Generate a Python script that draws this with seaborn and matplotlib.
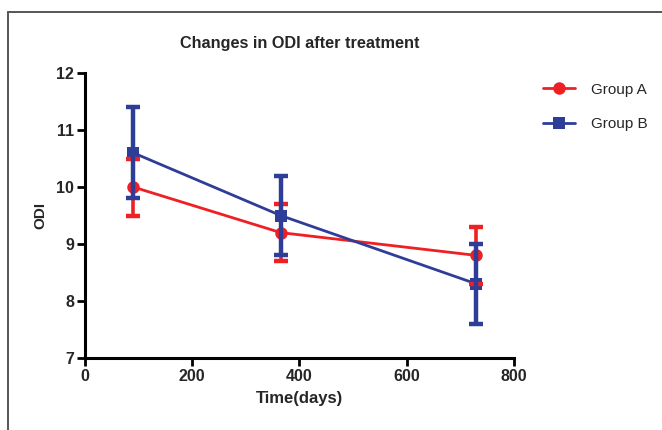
import pandas as pd
import matplotlib
matplotlib.use("Agg")
import matplotlib.pyplot as plt
import seaborn as sns
from matplotlib.lines import Line2D

# data
days = [90, 365, 730]
group_a = [10.0, 9.2, 8.8]
group_a_err = [0.5, 0.5, 0.5]
group_b = [10.6, 9.5, 8.3]
group_b_err = [0.8, 0.7, 0.7]

df = pd.DataFrame({
    "Time": days * 2,
    "ODI": group_a + group_b,
    "err": group_a_err + group_b_err,
    "Group": ["Group A"] * 3 + ["Group B"] * 3,
})

sns.set_style("white")
plt.rcParams["font.family"] = ["Liberation Sans", "DejaVu Sans"]

colors = {"Group A": "#ee2024", "Group B": "#2e3d98"}
markers = {"Group A": "o", "Group B": "s"}

fig = plt.figure(figsize=(6.62, 4.30), dpi=100)
ax = fig.add_axes([0.1284, 0.1674, 0.648, 0.6628])

sns.lineplot(data=df, x="Time", y="ODI", hue="Group", style="Group",
             palette=colors, markers=markers, dashes=False, markersize=9,
             markeredgewidth=0, linewidth=2, ax=ax, legend=False)

for name, g in df.groupby("Group"):
    ax.errorbar(g["Time"], g["ODI"], yerr=g["err"], fmt="none",
                ecolor=colors[name], elinewidth=3.2 if name == "Group B" else 2.6,
                capsize=5, capthick=3.2)

ax.set_xlim(0, 800)
ax.set_ylim(7, 12)
ax.set_xticks([0, 200, 400, 600, 800])
ax.set_yticks([7, 8, 9, 10, 11, 12])
for s in ["top", "right"]:
    ax.spines[s].set_visible(False)
for s in ["left", "bottom"]:
    ax.spines[s].set_linewidth(2.2)
    ax.spines[s].set_color("black")
ax.tick_params(axis="both", direction="out", length=6, width=2,
               labelsize=11.5, color="black", left=True, bottom=True, pad=2)
for lbl in ax.get_xticklabels() + ax.get_yticklabels():
    lbl.set_fontweight("bold")

ax.set_xlabel("Time(days)", fontsize=12, fontweight="bold", labelpad=5)
ax.set_ylabel("ODI", fontsize=11, fontweight="bold", labelpad=6)
ax.set_title("Changes in ODI after treatment", fontsize=11.7, fontweight="bold", pad=18)

handles = [Line2D([], [], color=colors[k], marker=markers[k], markersize=9,
                  markeredgewidth=0, linewidth=2) for k in ["Group A", "Group B"]]
fig.legend(handles, ["Group A", "Group B"], loc="upper left",
           bbox_to_anchor=(0.8, 0.84), frameon=False, fontsize=11,
           handlelength=2.1, labelspacing=1.35, handletextpad=1.0)

# outer frame
fig.add_artist(Line2D([0.012, 1.0], [0.972, 0.972], color="#555555", lw=1.4))
fig.add_artist(Line2D([0.012, 0.012], [0.0, 0.972], color="#555555", lw=1.4))

fig.savefig("out.png", dpi=100)
